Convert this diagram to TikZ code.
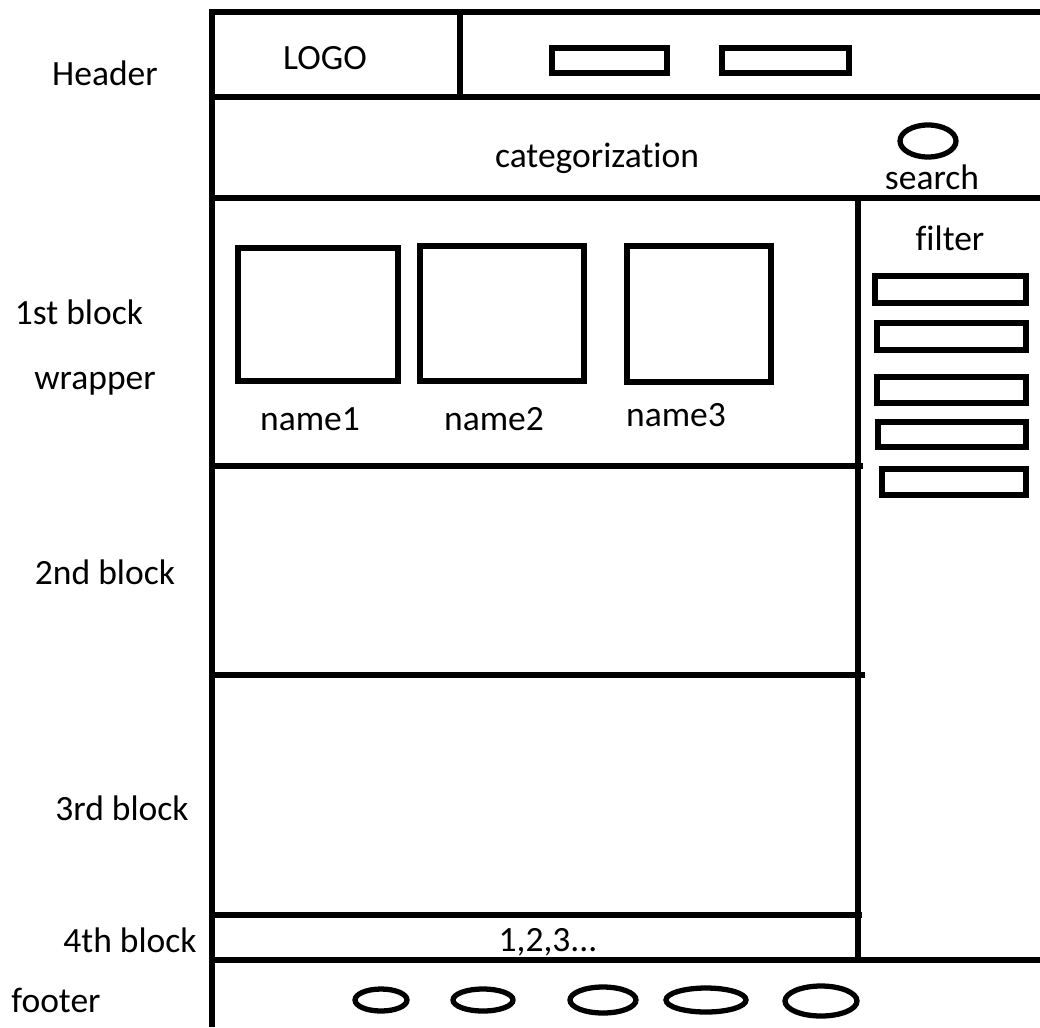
\documentclass[tikz,border=0pt]{standalone}
\usepackage{fontspec}
\setmainfont{Carlito}[Ligatures={NoCommon,TeX}]
\begin{document}
\begin{tikzpicture}[x=0.01cm,y=-0.01cm,
  wire/.style={line width=1.5pt},
  thickwire/.style={line width=1.9pt},
  lbl/.style={inner sep=0pt,font=\fontsize{10.1pt}{12pt}\selectfont}]
\useasboundingbox[fill=white] (0,0) rectangle (1040,1027);
% outer frame
\draw[thickwire] (212,12) -- (1040,12);
\draw[wire] (212,9) -- (212,1027);
\draw[wire] (460,12) -- (460,97);
\draw[wire] (212,97) -- (1040,97);
\draw[wire] (212,198) -- (1040,198);
\draw[wire] (858,198) -- (858,960);
\draw[wire] (209,466) -- (863,466);
\draw[wire] (212,675) -- (865,675);
\draw[wire] (212,915) -- (862,915);
\draw[thickwire] (212,960) -- (1040,960);
% header buttons
\draw[wire] (552,48) rectangle (667,73);
\draw[wire] (722,48) rectangle (849,73);
% search
\draw[wire] (928,141) ellipse [x radius=28, y radius=16];
% filter items
\draw[wire] (875,276) rectangle (1026,303);
\draw[wire] (877,323) rectangle (1026,350);
\draw[wire] (877,377) rectangle (1026,403);
\draw[wire] (878,422) rectangle (1026,447);
\draw[wire] (882,469) rectangle (1026,495);
% products
\draw[wire] (238,248) rectangle (398,381);
\draw[wire] (420,246) rectangle (584,381);
\draw[wire] (627,246) rectangle (771,382);
% footer ellipses
\draw[wire] (381,1000) ellipse [x radius=26, y radius=11];
\draw[wire] (483,1000) ellipse [x radius=30, y radius=11];
\draw[wire] (603,1000) ellipse [x radius=33, y radius=13];
\draw[wire] (706,1000) ellipse [x radius=40, y radius=12];
\draw[wire] (821,1001) ellipse [x radius=36, y radius=15];
% texts
\node[lbl] (logo) at (325,58) {LOGO};
\node[lbl] (cat) at (597,158) {categorization};
\node[lbl] (search) at (932,177) {search};
\node[lbl] (filter) at (950,238) {filter};
\node[lbl] (n1) at (310,419) {name1};
\node[lbl] (n2) at (494,419) {name2};
\node[lbl] (n3) at (676,415) {name3};
\node[lbl] (pages) at (548,942) {1,2,3...};
\node[lbl] (hdr) at (105,73) {Header};
\node[lbl] (b1) at (79,312) {1st block};
\node[lbl] (wrap) at (95,384) {wrapper};
\node[lbl] (b2) at (105,572) {2nd block};
\node[lbl] (b3) at (122,808) {3rd block};
\node[lbl] (b4) at (130,940) {4th block};
\node[lbl] (ftr) at (56,1000) {footer};
\end{tikzpicture}
\end{document}
